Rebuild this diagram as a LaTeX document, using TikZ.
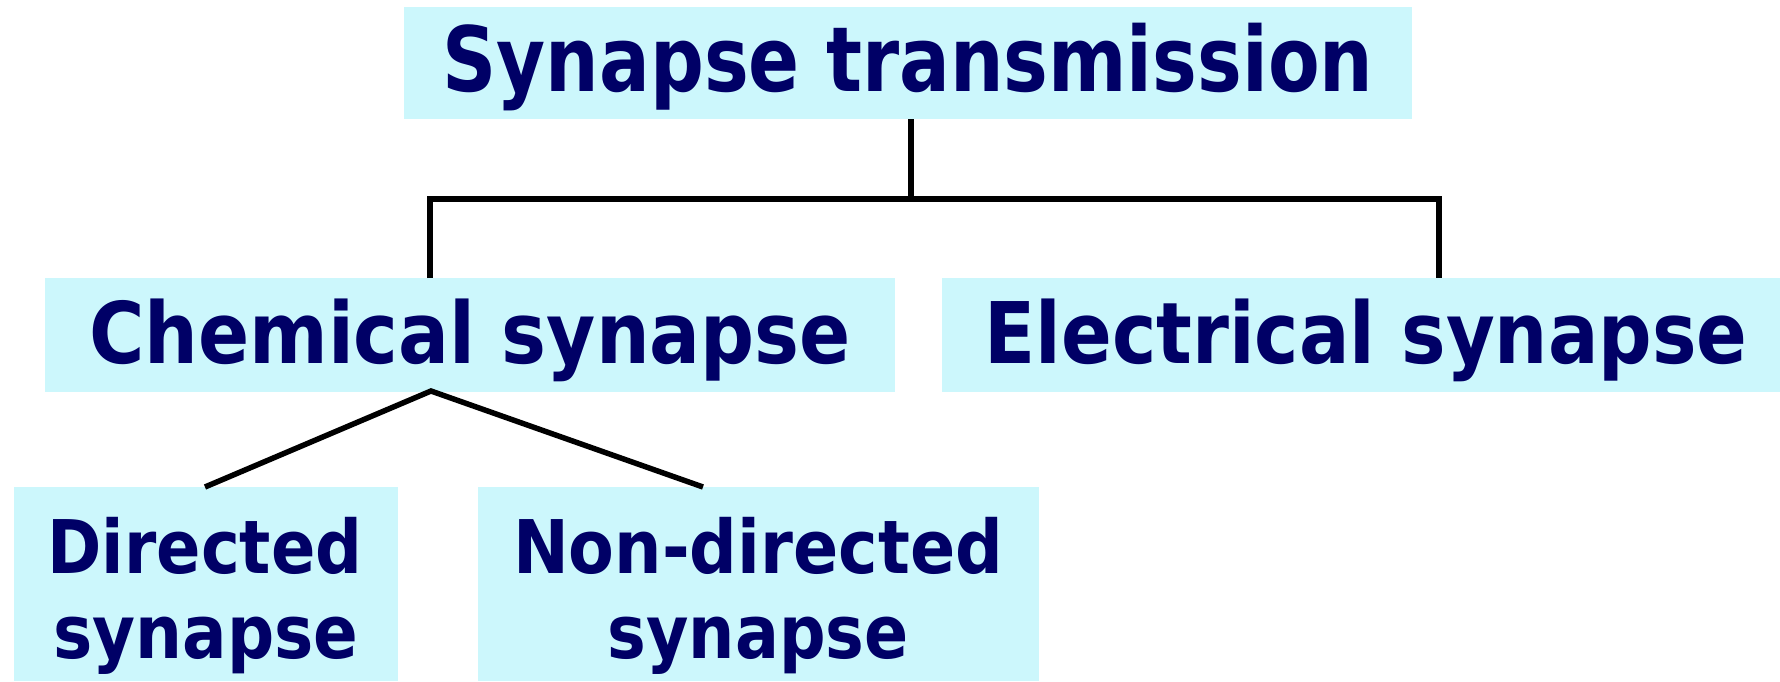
\documentclass[tikz,border=0pt]{standalone}
\usepackage{fontspec}
\setmainfont{DejaVu Sans}
\usepackage{graphicx}
\definecolor{boxfill}{HTML}{CCF7FC}
\definecolor{navy}{HTML}{000066}
\newsavebox\fitbox
\newcommand\fittext[3]{%
  \sbox\fitbox{\fontsize{#2}{#2}\selectfont\bfseries #3}%
  \pgfmathsetmacro\fitscale{#1/\the\wd\fitbox}%
  \scalebox{\fitscale}[1]{\usebox\fitbox}}
\tikzset{
  catbox/.style={rectangle, fill=boxfill, inner sep=0pt, draw=none},
  lbl/.style={anchor=base, inner sep=0pt, text=navy},
  link/.style={line width=5.5pt, black}
}
\begin{document}
\begin{tikzpicture}[x=1pt,y=-1pt]
\useasboundingbox (0,0) rectangle (1780,681);
% boxes
\node[catbox, minimum width=1008pt, minimum height=112pt] (top) at (908,63) {};
\node[catbox, minimum width=850pt, minimum height=114pt] (chem) at (470,335) {};
\node[catbox, minimum width=838pt, minimum height=114pt] (elec) at (1361,335) {};
\node[catbox, minimum width=384pt, minimum height=194pt] (dir) at (206,584) {};
\node[catbox, minimum width=561pt, minimum height=194pt] (ndir) at (758.5,584) {};
% texts
\node[lbl] (ttop) at (908,91) {\fittext{931}{90}{Synapse transmission}};
\node[lbl] (tchem) at (470,363) {\fittext{762}{85}{Chemical synapse}};
\node[lbl] (telec) at (1366,363) {\fittext{763}{85}{Electrical synapse}};
\node[lbl] (tdir1) at (205,573) {\fittext{315}{74}{Directed}};
\node[lbl] (tdir2) at (206,658) {\fittext{305}{74}{synapse}};
\node[lbl] (tndir1) at (758,573) {\fittext{490}{74}{Non-directed}};
\node[lbl] (tndir2) at (758,658) {\fittext{301}{74}{synapse}};
% connectors
\coordinate (j) at (911,199);
\coordinate (cl) at (430,278);
\coordinate (cr) at (1439,278);
\coordinate (cb) at (431,391);
\coordinate (dl) at (205,487);
\coordinate (dr) at (703,487);
\draw[link] (top.south -| j) -- (j);
\draw[link] (cl) |- (j) -| (cr);
\draw[link] (dl) -- (cb) -- (dr);
\end{tikzpicture}
\end{document}
